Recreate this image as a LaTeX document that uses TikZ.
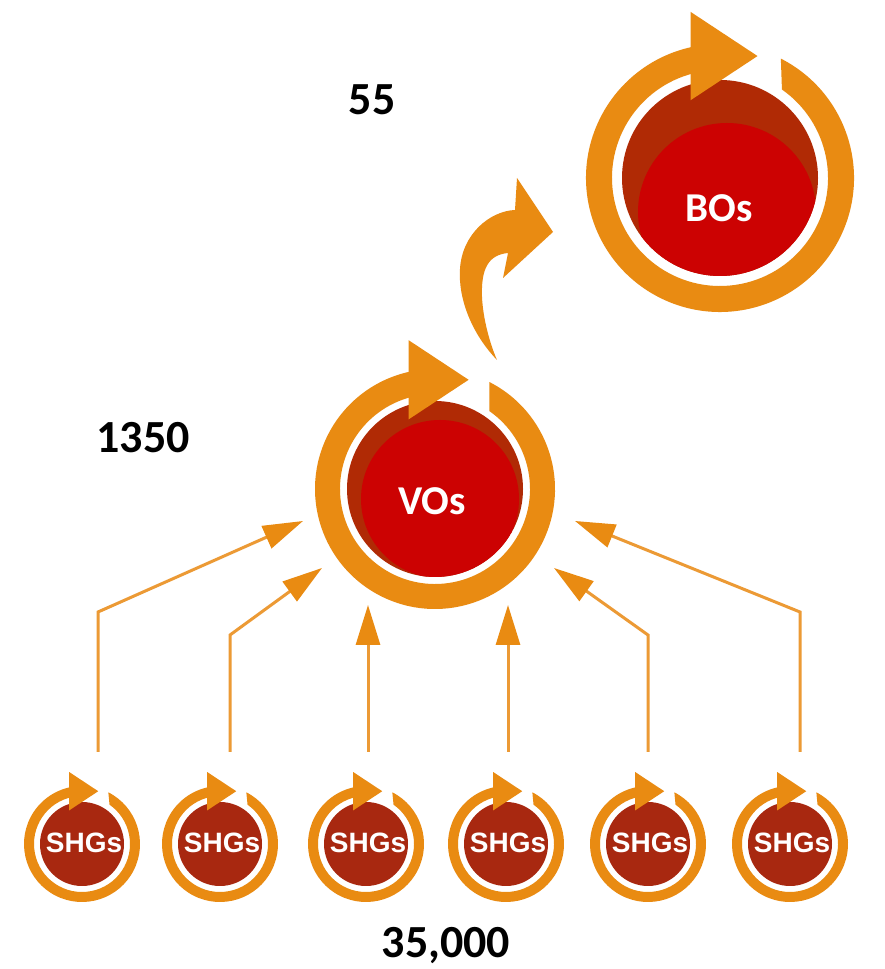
\documentclass[tikz,border=0pt]{standalone}
\usepackage{fontspec}
\setmainfont{Carlito}
\newfontfamily\shgfont{Liberation Sans}
\usetikzlibrary{arrows.meta,calc}
\definecolor{orng}{HTML}{E98B12}
\definecolor{orngline}{HTML}{EC9A35}
\definecolor{dred}{HTML}{B02A05}
\definecolor{bred}{HTML}{CC0202}
\definecolor{sred}{HTML}{A82810}
% #1 cx, #2 cy, #3 outer radius, #4 inner radius
\newcommand{\ringarrow}[4]{%
  \fill[orng] ($(#1,#2)+(63:#3)$) arc[start angle=63,end angle=-259,radius=#3]
     -- ($(#1,#2)+(-259:#4)$) arc[start angle=-259,end angle=55,radius=#4] -- cycle;
  \fill[orng] (#1-0.22*#3, #2+0.58*#3) -- (#1-0.22*#3, #2+1.24*#3)
     -- (#1+0.28*#3, #2+0.91*#3) -- cycle;
}
\begin{document}
\begin{tikzpicture}[x=1pt,y=1pt,
  conn/.style={draw=orngline, line width=3pt, line join=miter,
     -{Triangle[length=40pt,width=24pt,color=orng,fill=orng]}},
  numl/.style={font=\fontsize{46}{50}\selectfont\bfseries, text=black, inner sep=0pt},
  bigl/.style={font=\fontsize{41}{44}\selectfont\bfseries, text=white, inner sep=0pt},
  shgl/.style={font=\shgfont\fontsize{28}{31}\selectfont\bfseries, text=white, inner sep=0pt}]
\fill[white] (0,0) rectangle (885,969);
\useasboundingbox (0,0) rectangle (885,969);

% BOs
\fill[dred] (720,791) circle[radius=98];
\begin{scope}
  \clip (720,791) circle[radius=98];
  \fill[bred] (727,757) circle[radius=89];
\end{scope}
\ringarrow{720}{791}{134}{108}
\node[bigl, anchor=base] (bo) at (719,747) {BOs};

% VOs
\fill[dred] (435,480) circle[radius=88];
\begin{scope}
  \clip (435,480) circle[radius=88];
  \fill[bred] (440,470) circle[radius=79];
\end{scope}
\ringarrow{435}{480}{120}{95}
\node[bigl, anchor=base] (vo) at (432,454) {VOs};

% SHGs
\foreach \i/\x in {1/82,2/220,3/366,4/506,5/648,6/790}{
  \fill[sred] (\x,125) circle[radius=42];
  \ringarrow{\x}{125}{58}{48}
  \node[shgl, anchor=base] (shg\i) at (\x+2,116) {SHGs};
}

% curved arrow VOs -> BOs
\fill[orng] (497,609) .. controls (472,635) and (458,670) .. (460,700)
  .. controls (462,735) and (490,758) .. (515,759)
  -- (517,791) -- (553,737) -- (503,691) -- (508,716)
  .. controls (488,714) and (481,700) .. (482,672)
  .. controls (483,650) and (490,625) .. (497,609) -- cycle;

% connectors
\coordinate (a1s) at (98,217);  \coordinate (a1b) at (98,357);  \coordinate (a1t) at (303,448);
\coordinate (a2s) at (230,217); \coordinate (a2b) at (230,334); \coordinate (a2t) at (322,401);
\coordinate (a3s) at (368,217); \coordinate (a3t) at (368,364);
\coordinate (a4s) at (508,217); \coordinate (a4t) at (508,364);
\coordinate (a5s) at (648,217); \coordinate (a5b) at (648,334); \coordinate (a5t) at (554,401);
\coordinate (a6s) at (800,217); \coordinate (a6b) at (800,357); \coordinate (a6t) at (575,448);
\draw[conn] (a1s) -- (a1b) -- (a1t);
\draw[conn] (a2s) -- (a2b) -- (a2t);
\draw[conn] (a3s) -- (a3t);
\draw[conn] (a4s) -- (a4t);
\draw[conn] (a5s) -- (a5b) -- (a5t);
\draw[conn] (a6s) -- (a6b) -- (a6t);

% numbers
\node[numl, anchor=base] (n55) at (372,854) {55};
\node[numl, anchor=base] (n1350) at (143,516) {1350};
\node[numl, anchor=base] (n35000) at (446,11) {35,000};
\end{tikzpicture}
\end{document}
